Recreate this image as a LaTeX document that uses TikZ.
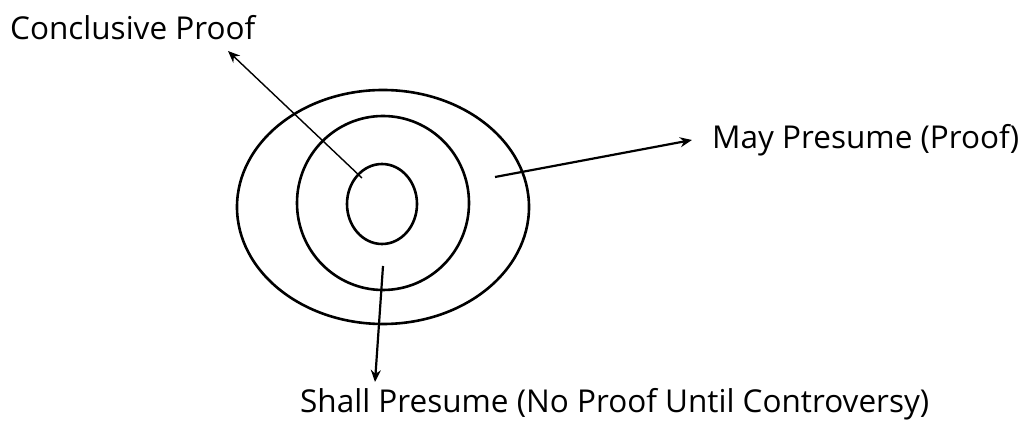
\documentclass[tikz,border=0pt]{standalone}
\usepackage{fontspec}
\setmainfont{Open Sans}
\usetikzlibrary{arrows.meta}

\begin{document}
\begin{tikzpicture}[x=1pt, y=-1pt, >={Stealth[length=12pt, width=10pt]}]
  % Page frame (pixel grid of the reference)
  \useasboundingbox (0,0) rectangle (1030,427);
  \tikzset{
    ring/.style={draw, line width=2.6pt},
    lbl/.style={anchor=west, inner sep=0pt, font=\fontsize{31.5}{36}\selectfont}
  }

  % Three nested rings
  \draw[ring] (383,207) ellipse (146 and 117);
  \draw[ring] (383,203) ellipse (86 and 87);
  \draw[ring] (382,204) ellipse (35 and 40);

  % Labels
  \node[lbl] (conc) at (10,28) {Conclusive Proof};
  \node[lbl] (may) at (712,140) {May Presume (Proof)};
  \node[lbl] (shall) at (300,404) {Shall Presume (No Proof Until Controversy)};

  % Arrow ends
  \coordinate (concfrom) at (362,178);
  \coordinate (concto) at (228,51);
  \coordinate (mayfrom) at (495,177);
  \coordinate (mayto) at (692,140);
  \coordinate (shallfrom) at (383,266);
  \coordinate (shallto) at (375,382);

  % Arrows
  \draw[->, line width=1.4pt] (concfrom) -- (concto);
  \draw[->, line width=2.2pt] (mayfrom) -- (mayto);
  \draw[->, line width=2.2pt] (shallfrom) -- (shallto);
\end{tikzpicture}
\end{document}
